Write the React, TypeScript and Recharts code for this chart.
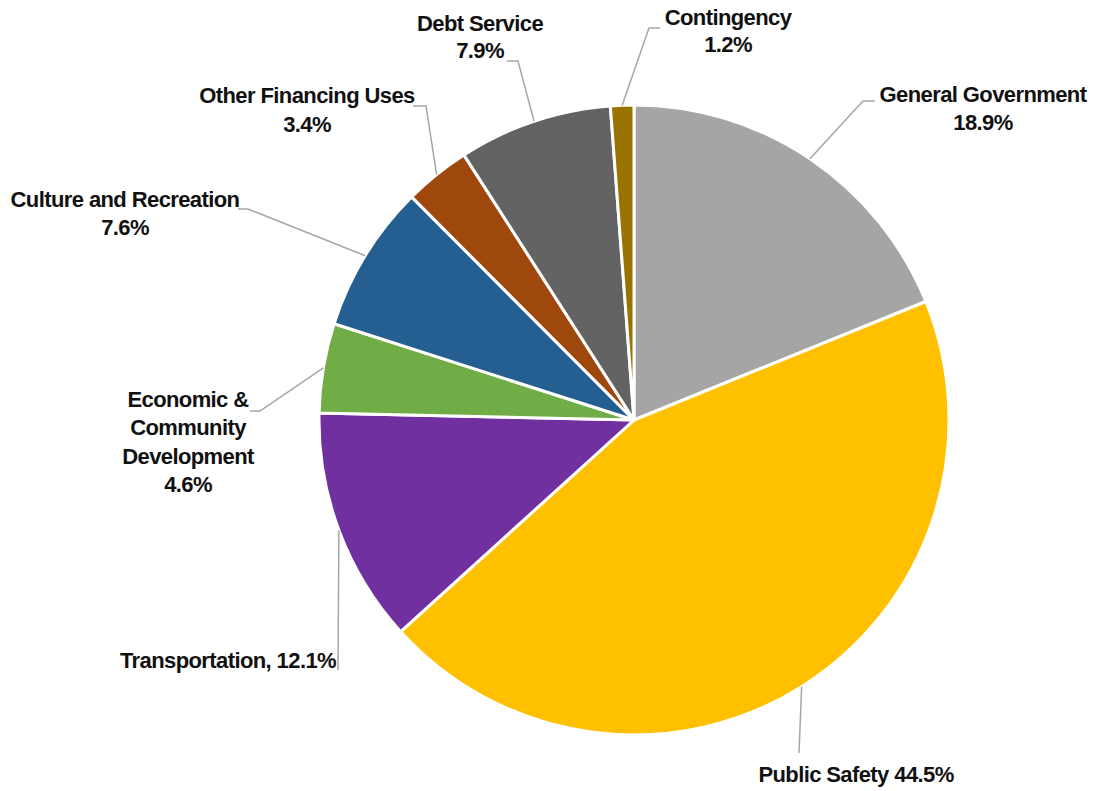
import React from 'react';
import { PieChart, Pie, Cell } from 'recharts';

const categories = [
  'General Government',
  'Public Safety',
  'Transportation',
  'Economic & Community Development',
  'Culture and Recreation',
  'Other Financing Uses',
  'Debt Service',
  'Contingency',
];
const shares = [18.9, 44.5, 12.1, 4.6, 7.6, 3.4, 7.9, 1.2];
const labelLines: string[][] = [
  ['General Government', '18.9%'],
  ['Public Safety 44.5%'],
  ['Transportation, 12.1%'],
  ['Economic &', 'Community', 'Development', '4.6%'],
  ['Culture and Recreation', '7.6%'],
  ['Other Financing Uses', '3.4%'],
  ['Debt Service', '7.9%'],
  ['Contingency', '1.2%'],
];
const colors = ['#A5A5A5', '#FFC000', '#7030A0', '#70AD47', '#255E91', '#9E480E', '#636363', '#997300'];

// label layout: offsets relative to pie centre
const labelLayout = [
  { elbow: [229, -319], end: [241, -319], tx: 349, ys: [-318, -290], anchor: 'middle' },
  { elbow: [165, 333], end: [165, 333], tx: 222, ys: [362], anchor: 'middle' },
  { elbow: [-296, 250], end: [-296, 250], tx: -298, ys: [248], anchor: 'end' },
  { elbow: [-374, -9], end: [-384, -9], tx: -446, ys: [-13, 15, 44, 72], anchor: 'middle' },
  { elbow: [-386, -211], end: [-396, -211], tx: -509, ys: [-213, -185], anchor: 'middle' },
  { elbow: [-208, -314], end: [-221, -314], tx: -327, ys: [-317, -288], anchor: 'middle' },
  { elbow: [-116, -359], end: [-127, -359], tx: -154, ys: [-389, -362], anchor: 'middle' },
  { elbow: [15, -392], end: [26, -392], tx: 94, ys: [-395, -368], anchor: 'middle' },
];

const data = categories.map((name, i) => ({ name, value: shares[i] }));

const FONT = "'Liberation Sans', Arial, sans-serif";
const RAD = Math.PI / 180;

const renderLabel = (props: any) => {
  const { cx, cy, midAngle, outerRadius, index } = props;
  const L = labelLayout[index];
  const sx = cx + outerRadius * Math.cos(-midAngle * RAD);
  const sy = cy + outerRadius * Math.sin(-midAngle * RAD);
  const pts = `${sx},${sy} ${cx + L.elbow[0]},${cy + L.elbow[1]} ${cx + L.end[0]},${cy + L.end[1]}`;
  return (
    <g key={`lbl-${index}`}>
      <polyline points={pts} fill="none" stroke="#A6A6A6" strokeWidth={1.5} />
      {labelLines[index].map((t, j) => (
        <text
          key={j}
          x={cx + L.tx}
          y={cy + L.ys[j]}
          textAnchor={L.anchor as any}
          fontFamily={FONT}
          fontWeight="bold"
          fontSize={22}
          letterSpacing={-0.6}
          fill="#111"
        >
          {t}
        </text>
      ))}
    </g>
  );
};

export default function App() {
  return (
    <div style={{ position: 'absolute', left: 0, top: 0, background: '#fff' }}>
      <PieChart width={1093} height={791} margin={{ top: 0, right: 0, bottom: 0, left: 0 }}>
        <Pie
          data={data}
          dataKey="value"
          nameKey="name"
          cx={634}
          cy={420}
          outerRadius={315}
          startAngle={90}
          endAngle={-270}
          stroke="#FFFFFF"
          strokeWidth={3}
          labelLine={false}
          label={renderLabel}
          isAnimationActive={false}
        >
          {data.map((d, i) => (
            <Cell key={d.name} fill={colors[i]} />
          ))}
        </Pie>
      </PieChart>
    </div>
  );
}
